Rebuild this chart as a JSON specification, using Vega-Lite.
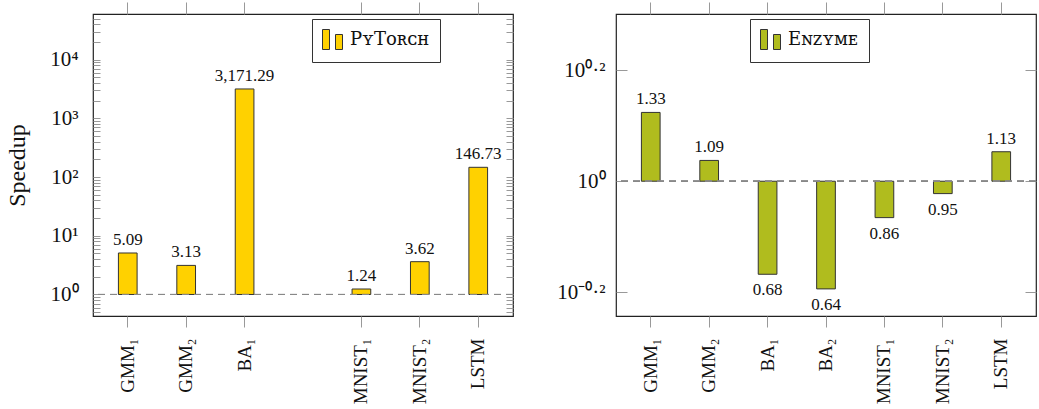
{
  "$schema": "https://vega.github.io/schema/vega-lite/v6.json",
  "background": "white",
  "padding": {"left": 5, "top": 0, "right": 0, "bottom": 0},
  "config": {
    "view": {"stroke": "#222", "strokeWidth": 1.2},
    "font": "Liberation Serif",
    "axis": {"grid": false, "domain": false, "tickColor": "#999", "tickWidth": 1, "labelFont": "Liberation Serif", "labelColor": "#111", "titleFont": "Liberation Serif", "titleFontWeight": "normal", "titleColor": "#111"},
    "concat": {"spacing": 41}
  },
  "resolve": {"scale": {"x": "independent", "y": "independent", "color": "independent"}, "axis": {"x": "independent", "y": "independent"}, "legend": {"color": "independent"}},
  "hconcat": [
    {
      "width": 420,
      "height": 302,
      "data": {"values": [
        {"b": "GMM₁", "v": 5.09, "s": "PʏTᴏʀᴄʜ"},
        {"b": "GMM₂", "v": 3.13, "s": "PʏTᴏʀᴄʜ"},
        {"b": "BA₁", "v": 3171.29, "s": "PʏTᴏʀᴄʜ"},
        {"b": "MNIST₁", "v": 1.24, "s": "PʏTᴏʀᴄʜ"},
        {"b": "MNIST₂", "v": 3.62, "s": "PʏTᴏʀᴄʜ"},
        {"b": "LSTM", "v": 146.73, "s": "PʏTᴏʀᴄʜ"}
      ]},
      "layer": [
        {
          "mark": {"type": "bar", "stroke": "#333", "strokeWidth": 1},
          "encoding": {
            "x": {"field": "b", "type": "nominal", "sort": null,
              "scale": {"domain": ["GMM₁", "GMM₂", "BA₁", "BA₂", "MNIST₁", "MNIST₂", "LSTM"], "paddingInner": 0.68, "paddingOuter": 0.435},
              "axis": {"orient": "bottom", "title": null, "values": ["GMM₁", "GMM₂", "BA₁", "MNIST₁", "MNIST₂", "LSTM"], "labelAngle": -90, "labelAlign": "right", "labelBaseline": "middle", "labelFontSize": 19, "tickSize": 11, "labelPadding": 11}},
            "y": {"field": "v", "type": "quantitative",
              "scale": {"type": "log", "domain": [0.43, 60000], "nice": false},
              "axis": {"orient": "left", "title": "Speedup", "titleFontSize": 24, "titlePadding": 20, "labelFontSize": 21, "tickSize": -7, "labelPadding": 22,
                "values": [0.5,0.6,0.7,0.8,0.9,1,2,3,4,5,6,7,8,9,10,20,30,40,50,60,70,80,90,100,200,300,400,500,600,700,800,900,1000,2000,3000,4000,5000,6000,7000,8000,9000,10000,20000,30000,40000,50000],
                "labelExpr": "datum.value == 1 ? '10⁰' : datum.value == 10 ? '10¹' : datum.value == 100 ? '10²' : datum.value == 1000 ? '10³' : datum.value == 10000 ? '10⁴' : ''"}},
            "y2": {"datum": 1},
            "color": {"field": "s", "type": "nominal", "scale": {"range": ["#FFD100"]},
              "legend": {"orient": "none", "legendX": 219, "legendY": 5, "title": null, "symbolType": "M-1,-1H-0.3V1H-1Z M0.3,-0.5H1V1H0.3Z", "symbolSize": 400, "symbolStrokeColor": "#333", "symbolStrokeWidth": 1, "labelFont": "DejaVu Serif", "labelFontSize": 18, "labelColor": "#111", "labelOffset": 7, "padding": 10, "strokeColor": "#333", "fillColor": "white", "cornerRadius": 0}}
          }
        },
        {
          "mark": {"type": "rule", "strokeDash": [7, 5], "color": "#888", "strokeWidth": 1},
          "encoding": {"y": {"datum": 1, "type": "quantitative", "axis": null}}
        },
        {
          "mark": {"type": "text", "baseline": "alphabetic", "dy": -8, "fontSize": 17, "color": "#111"},
          "encoding": {
            "x": {"field": "b", "type": "nominal", "sort": null,
              "axis": {"orient": "top", "title": null, "labels": false, "values": ["GMM₁", "GMM₂", "BA₁", "MNIST₁", "MNIST₂", "LSTM"], "tickSize": 12}},
            "y": {"field": "v", "type": "quantitative",
              "axis": {"orient": "right", "title": null, "labels": false, "tickSize": -7,
                "values": [0.5,0.6,0.7,0.8,0.9,1,2,3,4,5,6,7,8,9,10,20,30,40,50,60,70,80,90,100,200,300,400,500,600,700,800,900,1000,2000,3000,4000,5000,6000,7000,8000,9000,10000,20000,30000,40000,50000]}},
            "text": {"field": "v", "type": "quantitative", "format": ",.2f"}
          }
        }
      ]
    },
    {
      "width": 420,
      "height": 302,
      "data": {"values": [
        {"b": "GMM₁", "v": 1.33, "s": "Eɴᴢʏᴍᴇ"},
        {"b": "GMM₂", "v": 1.09, "s": "Eɴᴢʏᴍᴇ"},
        {"b": "BA₁", "v": 0.68, "s": "Eɴᴢʏᴍᴇ"},
        {"b": "BA₂", "v": 0.64, "s": "Eɴᴢʏᴍᴇ"},
        {"b": "MNIST₁", "v": 0.86, "s": "Eɴᴢʏᴍᴇ"},
        {"b": "MNIST₂", "v": 0.95, "s": "Eɴᴢʏᴍᴇ"},
        {"b": "LSTM", "v": 1.13, "s": "Eɴᴢʏᴍᴇ"}
      ]},
      "layer": [
        {
          "mark": {"type": "bar", "stroke": "#333", "strokeWidth": 1},
          "encoding": {
            "x": {"field": "b", "type": "nominal", "sort": null,
              "scale": {"domain": ["GMM₁", "GMM₂", "BA₁", "BA₂", "MNIST₁", "MNIST₂", "LSTM"], "paddingInner": 0.68, "paddingOuter": 0.435},
              "axis": {"orient": "bottom", "title": null, "labelAngle": -90, "labelAlign": "right", "labelBaseline": "middle", "labelFontSize": 19, "tickSize": 11, "labelPadding": 11}},
            "y": {"field": "v", "type": "quantitative",
              "scale": {"type": "log", "domain": [0.572, 2.0], "nice": false},
              "axis": {"orient": "left", "title": null, "labelFontSize": 21, "tickSize": -11, "labelPadding": 22,
                "values": [0.6309573, 1, 1.5848932],
                "labelExpr": "datum.value < 0.9 ? '10⁻⁰·²' : datum.value > 1.1 ? '10⁰·²' : '10⁰'"}},
            "y2": {"datum": 1},
            "color": {"field": "s", "type": "nominal", "scale": {"range": ["#B0BC1E"]},
              "legend": {"orient": "none", "legendX": 134, "legendY": 5, "title": null, "symbolType": "M-1,-1H-0.3V1H-1Z M0.3,-0.5H1V1H0.3Z", "symbolSize": 400, "symbolStrokeColor": "#333", "symbolStrokeWidth": 1, "labelFont": "DejaVu Serif", "labelFontSize": 18, "labelColor": "#111", "labelOffset": 7, "padding": 10, "strokeColor": "#333", "fillColor": "white", "cornerRadius": 0}}
          }
        },
        {
          "mark": {"type": "rule", "strokeDash": [7, 5], "color": "#888", "strokeWidth": 1},
          "encoding": {"y": {"datum": 1, "type": "quantitative", "axis": null}}
        },
        {
          "transform": [{"filter": "datum.v >= 1"}],
          "mark": {"type": "text", "baseline": "alphabetic", "dy": -8, "fontSize": 17, "color": "#111"},
          "encoding": {
            "x": {"field": "b", "type": "nominal", "sort": null,
              "axis": {"orient": "top", "title": null, "labels": false, "tickSize": 12}},
            "y": {"field": "v", "type": "quantitative",
              "axis": {"orient": "right", "title": null, "labels": false, "tickSize": -11, "values": [0.6309573, 1, 1.5848932]}},
            "text": {"field": "v", "type": "quantitative", "format": ",.2f"}
          }
        },
        {
          "transform": [{"filter": "datum.v < 1"}],
          "mark": {"type": "text", "baseline": "top", "dy": 8, "fontSize": 17, "color": "#111"},
          "encoding": {
            "x": {"field": "b", "type": "nominal", "sort": null, "axis": null},
            "y": {"field": "v", "type": "quantitative", "axis": null},
            "text": {"field": "v", "type": "quantitative", "format": ",.2f"}
          }
        }
      ]
    }
  ]
}
